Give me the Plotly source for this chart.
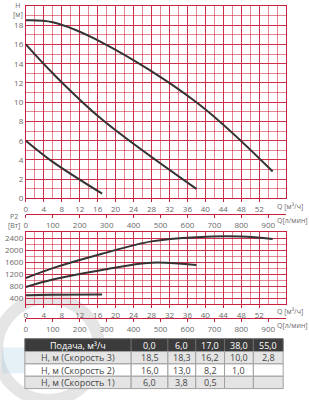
import plotly.graph_objects as go

# ---------------- data ----------------
q_pts = [0, 6, 17, 38, 55]                 # Подача, м3/ч
h_speed3 = [18.5, 18.3, 16.2, 10.0, 2.8]
h_speed2 = [16.0, 13.0, 8.2, 1.0]
h_speed1 = [6.0, 3.8, 0.5]

p2_q3 = [0, 6, 17, 28, 38, 48, 55]
p2_speed3 = [1070, 1400, 1880, 2290, 2430, 2450, 2370]
p2_q2 = [0, 6, 17, 28, 38]
p2_speed2 = [770, 1020, 1340, 1580, 1500]
p2_q1 = [0, 6, 17]
p2_speed1 = [500, 510, 520]

q_ticks = list(range(0, 53, 4))
lmin_ticks = list(range(0, 901, 100))
h_ticks = list(range(0, 19, 2))
p_ticks = [400, 800, 1200, 1600, 2000, 2400]

row_labels = ["Н, м (Скорость 3)", "Н, м (Скорость 2)", "Н, м (Скорость 1)"]
header_label = "Подача, м³/ч"

W, H = 309, 400
def px(x): return x / W
def py(y): return 1 - y / H

RED = "#c8203c"
GRID = "rgba(200,32,60,0.85)"
GRID_MINOR = "rgba(200,32,60,0.55)"
CURVE = "#333333"
TXT = "#6a6a6a"
FONT = "Open Sans"

Q_MAX = 58
fig = go.Figure()

# top chart curves
for qs, hs in [(q_pts, h_speed3), (q_pts[:4], h_speed2), (q_pts[:3], h_speed1)]:
    fig.add_trace(go.Scatter(x=qs, y=hs, mode="lines", line=dict(color=CURVE, width=2, shape="spline", smoothing=1),
                             xaxis="x", yaxis="y", showlegend=False, hoverinfo="skip"))
# bottom chart curves
for qs, ps in [(p2_q3, p2_speed3), (p2_q2, p2_speed2), (p2_q1, p2_speed1)]:
    fig.add_trace(go.Scatter(x=qs, y=ps, mode="lines", line=dict(color=CURVE, width=2, shape="spline", smoothing=1),
                             xaxis="x2", yaxis="y2", showlegend=False, hoverinfo="skip"))
# helper invisible traces for secondary l/min axes
fig.add_trace(go.Scatter(x=[0], y=[0], mode="markers", marker=dict(opacity=0), xaxis="x3", yaxis="y",
                         showlegend=False, hoverinfo="skip"))
fig.add_trace(go.Scatter(x=[0], y=[400], mode="markers", marker=dict(opacity=0), xaxis="x4", yaxis="y2",
                         showlegend=False, hoverinfo="skip"))

xcommon = dict(domain=[px(24), px(286)], range=[0, Q_MAX], showline=True, linecolor=RED, linewidth=1,
               mirror=True, showgrid=True, gridcolor=GRID, gridwidth=1, zeroline=False,
               tickmode="array", tickvals=q_ticks, ticks="outside", ticklen=3, tickcolor=RED,
               tickfont=dict(size=8, color=TXT, family=FONT),
               minor=dict(dtick=2, tick0=0, showgrid=True, gridcolor=GRID_MINOR, gridwidth=1, ticks=""))
lmin_common = dict(range=[0, Q_MAX * 1000 / 60], showline=True, linecolor=RED, linewidth=1,
                   showgrid=False, zeroline=False, tickmode="array", tickvals=lmin_ticks, ticks="outside",
                   ticklen=3, tickcolor=RED, tickfont=dict(size=8, color=TXT, family=FONT),
                   anchor="free", side="bottom")

fig.update_layout(
    width=W, height=H, margin=dict(l=0, r=0, t=0, b=0),
    paper_bgcolor="white", plot_bgcolor="white",
    xaxis=dict(anchor="y", **xcommon),
    yaxis=dict(domain=[py(201), py(6)], range=[0, 20], showline=True, linecolor=RED, mirror=True,
               showgrid=True, gridcolor=GRID, zeroline=False, tickmode="array", tickvals=h_ticks,
               ticks="", tickfont=dict(size=8, color=TXT, family=FONT),
               minor=dict(dtick=1, tick0=0, showgrid=True, gridcolor=GRID_MINOR, ticks="")),
    xaxis2=dict(anchor="y2", **xcommon),
    yaxis2=dict(domain=[py(308), py(235)], range=[200, 2600], showline=True, linecolor=RED, mirror=True,
                showgrid=True, gridcolor=GRID, zeroline=False, tickmode="array", tickvals=p_ticks,
                ticks="", tickfont=dict(size=8, color=TXT, family=FONT),
                minor=dict(dtick=200, tick0=0, showgrid=True, gridcolor=GRID_MINOR, ticks="")),
    xaxis3=dict(overlaying="x", position=py(217), **lmin_common),
    xaxis4=dict(overlaying="x2", position=py(322), **lmin_common),
)

# watermark (faint logo)
fig.add_shape(type="circle", xref="paper", yref="paper", x0=px(-5), x1=px(98), y0=py(405), y1=py(302),
              line=dict(color="rgba(170,170,170,0.30)", width=12), layer="below")
fig.add_shape(type="rect", xref="paper", yref="paper", x0=px(0), x1=px(60), y0=py(378), y1=py(352),
              fillcolor="rgba(150,200,225,0.25)", line=dict(width=0), layer="below")

# axis titles
ann_font = dict(size=7, color=TXT, family=FONT)
fig.add_annotation(x=px(16), y=py(10), xref="paper", yref="paper", text="H<br>[м]", showarrow=False,
                   font=ann_font, xanchor="center", yanchor="middle")
fig.add_annotation(x=px(12), y=py(235), xref="paper", yref="paper", text="P2<br>[Вт]", showarrow=False,
                   font=ann_font, xanchor="center", yanchor="bottom")
for (y, t) in [(209, "Q [м³/ч]"), (223, "Q[л/мин]"), (315, "Q [м³/ч]"), (330, "Q[л/мин]")]:
    fig.add_annotation(x=px(275), y=py(y), xref="paper", yref="paper", text=t, showarrow=False,
                       font=ann_font, xanchor="left", yanchor="middle")

# ---------------- table (drawn with shapes + text) ----------------
def fmt(v):
    return f"{v:.1f}".replace(".", ",")
col_x = [23, 130, 167, 195, 224, 253, 283]
row_y = [343, 356, 368.5, 381, 393.5]
header = [header_label] + [fmt(v) for v in q_pts]
rows = []
for lbl, hs in zip(row_labels, (h_speed3, h_speed2, h_speed1)):
    rows.append([lbl] + [fmt(hs[i]) if i < len(hs) else "" for i in range(len(q_pts))])
row_fill = ["#e4e4e4", "#ffffff", "#e4e4e4"]
all_rows = [header] + rows
fills = ["#3b3b3b"] + row_fill
for r, vals in enumerate(all_rows):
    for c, v in enumerate(vals):
        fig.add_shape(type="rect", xref="paper", yref="paper",
                      x0=px(col_x[c]), x1=px(col_x[c + 1]), y0=py(row_y[r + 1]), y1=py(row_y[r]),
                      fillcolor=fills[r], line=dict(color="#a0a0a0" if r else "#6a6a6a", width=1))
        if v:
            fig.add_annotation(x=px((col_x[c] + col_x[c + 1]) / 2), y=py((row_y[r] + row_y[r + 1]) / 2),
                               xref="paper", yref="paper", text=v, showarrow=False,
                               font=dict(size=9, color="white" if r == 0 else "#444444", family=FONT),
                               xanchor="center", yanchor="middle")

fig.write_html("out.html")
